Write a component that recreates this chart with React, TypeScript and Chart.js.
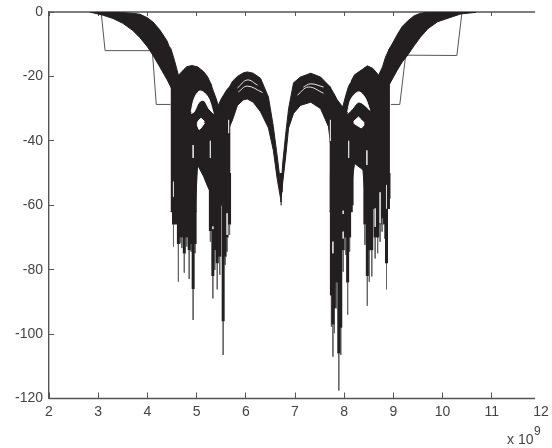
import React, { useEffect, useRef } from "react";
import { Chart, registerables } from "chart.js";

Chart.register(...registerables);

const INK = "#231f20";
const AXIS = "#555555";

// Envelope bands: x (in units of 1e9), upper edge, lower edge
const shoulderLX = [2.83, 3.1, 3.3, 3.5, 3.7, 3.85, 4.0, 4.12, 4.25, 4.4, 4.5];
const shoulderLTop = [0, -0.1, -0.15, -0.2, -0.4, -0.7, -1.8, -3.2, -5.5, -9, -13];
const shoulderLBot = [0, -1, -2, -3.5, -5.7, -8, -10.8, -13.6, -17, -21, -24];

const block1X = [4.47, 4.55, 4.63, 4.68, 4.73, 4.8, 4.91, 5.0];
const block1Top = [-11, -15, -19.6, -18.9, -18, -17, -16.6, -17];
const block1Bot = [-62, -62, -62, -62, -62, -62, -62, -62];

const midLX = [4.97, 5.02, 5.14, 5.22, 5.31];
const midLTop = [-17, -17, -18.5, -20, -23];
const midLBot = [-62, -47.5, -51, -54, -57];

const block2X = [5.28, 5.34, 5.4, 5.44, 5.5, 5.56, 5.62, 5.69];
const block2Top = [-22, -24.5, -27, -29, -27, -25.5, -24, -23];
const block2Bot = [-60, -60, -60, -60, -60, -60, -60, -60];

const lobeLX = [5.66, 5.73, 5.83, 5.95, 6.03, 6.15, 6.3, 6.46, 6.56, 6.64, 6.72];
const lobeLTop = [-23.5, -21.5, -20, -18.9, -18.6, -19, -20.6, -26.4, -35.6, -45, -55];
const lobeLBot = [-36, -33.5, -29, -27.3, -27, -28, -31, -36, -43, -52, -59];

const lobeRX = [6.71, 6.75, 6.81, 6.87, 6.97, 7.11, 7.32, 7.52, 7.68, 7.73];
const lobeRTop = [-56, -47, -38, -30, -22, -20.2, -19, -20.2, -22.7, -23.5];
const lobeRBot = [-59, -53, -45, -36, -31.5, -29, -28, -30, -35.6, -42];

const block3X = [7.7, 7.78, 7.86, 7.97, 8.03, 8.09, 8.17];
const block3Top = [-23, -25, -27.3, -29.5, -26, -23, -21];
const block3Bot = [-62, -62, -62, -62, -62, -62, -62];

const midRX = [8.14, 8.21, 8.38, 8.44];
const midRTop = [-21.5, -19.5, -17.7, -17.2];
const midRBot = [-55, -47, -49, -60];

const block4X = [8.4, 8.47, 8.58, 8.7, 8.78, 8.84, 8.93];
const block4Top = [-17.5, -16.7, -17.5, -19.6, -17, -14, -11];
const block4Bot = [-61, -61, -61, -61, -61, -61, -61];

const shoulderRX = [8.9, 9.08, 9.18, 9.29, 9.42, 9.55, 9.7, 9.9, 10.37, 10.68];
const shoulderRTop = [-12, -7, -4.5, -2.8, -1.2, -0.4, -0.1, 0, 0, 0];
const shoulderRBot = [-23, -18, -15.5, -13.4, -10.5, -7.8, -5.2, -3, -0.6, -0.1];

// White holes
const crescentLX = [4.89, 4.95, 5.05, 5.15, 5.25, 5.34];
const crescentLTop = [-31, -27, -24.6, -25, -27, -31.5];
const crescentLBot = [-31.5, -31, -28, -27.5, -30, -31.5];
const pocketLX = [5.01, 5.05, 5.09, 5.16];
const pocketLTop = [-34.5, -33.5, -33, -34];
const pocketLBot = [-35, -36.5, -36, -34.5];

const crescentRX = [8.07, 8.14, 8.29, 8.42, 8.52];
const crescentRTop = [-31, -27, -24.8, -26.5, -30.5];
const crescentRBot = [-31.5, -30.5, -28, -29, -30.5];
const pocketRX = [8.19, 8.29, 8.35, 8.41];
const pocketRTop = [-34, -32.6, -33.5, -34.5];
const pocketRBot = [-34.5, -35.5, -36, -35];

// Thin white arcs inside the central lobes
const arcA = { x: [5.83, 6.03, 6.24], y: [-23.6, -21.1, -22.7] };
const arcB = { x: [5.85, 6.03, 6.34], y: [-24.8, -23, -25] };
const arcC = { x: [7.05, 7.27, 7.58], y: [-25.8, -23.3, -25.2] };
const arcD = { x: [7.17, 7.32, 7.58], y: [-23.3, -22.3, -23.3] };

// White slits in the solid mass
const slitX = [5.65, 5.28, 4.93, 7.72, 8.09, 8.46, 4.53, 5.33, 5.62, 7.98, 7.98, 7.77, 8.86, 8.73, 8.63];
const slitTop = [-33.5, -40, -41.3, -33.5, -40, -43, -52.7, -66.6, -62.5, -61.7, -68.2, -71.3, -53.7, -56, -61];
const slitBot = [-37.6, -45.3, -45.3, -40, -45.3, -47.5, -57.3, -67.4, -69.2, -62.7, -70.3, -74.9, -61, -65.6, -66.7];

// Downward spikes: x, end of the heavy part, tip
const spikeX = [
  4.53, 4.58, 4.63, 4.68, 4.7, 4.75, 4.8, 4.85, 4.89, 4.93, 4.97,
  5.28, 5.33, 5.37, 5.42, 5.47, 5.54, 5.58, 5.62, 5.67,
  6.72,
  7.74, 7.77, 7.8, 7.84, 7.89, 7.93, 7.98, 8.03, 8.07, 8.11, 8.16,
  8.42, 8.47, 8.51, 8.56, 8.63, 8.68, 8.73, 8.77, 8.82, 8.86, 8.91,
];
const spikeHeavy = [
  -66, -66, -72, -70, -70, -75, -70, -74, -72, -86, -72,
  -68, -82, -74, -78, -76, -96, -76, -70, -66,
  -56,
  -88, -97, -92, -84, -106, -98, -74, -70, -84, -70, -60,
  -66, -82, -74, -74, -70, -70, -66, -64, -66, -78, -58,
];
const spikeTip = [
  -72.8, -66, -83.7, -71.8, -73.3, -80.9, -72.8, -82.9, -74.4, -95.6, -74.9,
  -71.3, -88.9, -80.1, -86.1, -81.6, -106.5, -78.5, -74.4, -69.2,
  -60,
  -97.7, -107, -99.7, -92, -117.5, -106.5, -80.6, -75.4, -94, -74.4, -62,
  -72.3, -91.2, -83.7, -82.1, -76.5, -74.9, -71.3, -68.2, -70.3, -86.1, -61,
];

// Stepped thin traces
const stepLX = [3.06, 3.14, 4.1, 4.18, 4.47];
const stepLY = [0, -12, -12, -28.7, -28.7];
const stepRX = [8.95, 9.13, 9.25, 10.29, 10.39];
const stepRY = [-28.7, -28.7, -13.4, -13.5, -0.6];

// Frame lines
const frameX = [2, 11.88];
const frameTop = [0, 0];
const frameBottom = [-120, -120];

const xTicks = [2, 3, 4, 5, 6, 7, 8, 9, 10, 11, 12];

const zip = (x: number[], y: number[]) => x.map((v, i) => ({ x: v, y: y[i] }));
const base = { showLine: true, pointRadius: 0, pointHoverRadius: 0, tension: 0 };

function band(out: any[], x: number[], top: number[], bot: number[], color: string, order: number, tension = 0) {
  out.push({
    ...base, tension, data: zip(x, top), borderColor: color, borderWidth: 1, backgroundColor: color,
    fill: "+1", order,
  });
  out.push({
    ...base, tension, data: zip(x, bot), borderColor: color, borderWidth: 1, fill: false, order,
  });
}

function columns(x: number[], from: number[], to: number[]) {
  const pts: any[] = [];
  x.forEach((v, i) => {
    pts.push({ x: v, y: from[i] }, { x: v, y: to[i] }, { x: v, y: null });
  });
  return pts;
}

const noPad = (s: any) => {
  s.paddingLeft = 0;
  s.paddingRight = 0;
  s.paddingTop = 0;
  s.paddingBottom = 0;
};

const sciLabel = {
  id: "sciLabel",
  afterDraw(chart: any) {
    const { ctx } = chart;
    ctx.save();
    ctx.fillStyle = "#444";
    ctx.textAlign = "left";
    ctx.textBaseline = "alphabetic";
    ctx.font = '14px "Liberation Sans"';
    ctx.fillText("x 10", 507, 444);
    ctx.font = '12px "Liberation Sans"';
    ctx.fillText("9", 534, 435);
    ctx.restore();
  },
};

export default function App() {
  const ref = useRef<HTMLCanvasElement>(null);
  useEffect(() => {
    const datasets: any[] = [];
    const white = "#ffffff";
    band(datasets, crescentLX, crescentLTop, crescentLBot, white, 0, 0.35);
    band(datasets, pocketLX, pocketLTop, pocketLBot, white, 0);
    band(datasets, crescentRX, crescentRTop, crescentRBot, white, 0, 0.35);
    band(datasets, pocketRX, pocketRTop, pocketRBot, white, 0);
    [arcA, arcB, arcC, arcD].forEach((a) =>
      datasets.push({ ...base, tension: 0.4, data: zip(a.x, a.y), borderColor: "#e8e8e8", borderWidth: 1, fill: false, order: 0 })
    );
    datasets.push({
      ...base, data: columns(slitX, slitTop, slitBot), borderColor: "#d8d8d8", borderWidth: 1,
      fill: false, spanGaps: false, order: 0,
    });
    band(datasets, shoulderLX, shoulderLTop, shoulderLBot, INK, 2);
    band(datasets, block1X, block1Top, block1Bot, INK, 2);
    band(datasets, midLX, midLTop, midLBot, INK, 2);
    band(datasets, block2X, block2Top, block2Bot, INK, 2);
    band(datasets, lobeLX, lobeLTop, lobeLBot, INK, 2);
    band(datasets, lobeRX, lobeRTop, lobeRBot, INK, 2);
    band(datasets, block3X, block3Top, block3Bot, INK, 2);
    band(datasets, midRX, midRTop, midRBot, INK, 2);
    band(datasets, block4X, block4Top, block4Bot, INK, 2);
    band(datasets, shoulderRX, shoulderRTop, shoulderRBot, INK, 2);
    datasets.push({
      ...base, data: columns(spikeX, spikeTip.map(() => -50), spikeHeavy), borderColor: INK, borderWidth: 3,
      borderCapStyle: "butt", fill: false, spanGaps: false, order: 2,
    });
    datasets.push({
      ...base, data: columns(spikeX, spikeHeavy, spikeTip), borderColor: "#666666", borderWidth: 1,
      fill: false, spanGaps: false, order: 3,
    });
    datasets.push({ ...base, data: zip(stepLX, stepLY), borderColor: "#555", borderWidth: 1, fill: false, order: 4 });
    datasets.push({ ...base, data: zip(stepRX, stepRY), borderColor: "#555", borderWidth: 1, fill: false, order: 4 });
    datasets.push({ ...base, data: zip(frameX, frameTop), borderColor: AXIS, borderWidth: 1.4, fill: false, clip: false, order: 5 });
    datasets.push({ ...base, data: zip(frameX, frameBottom), borderColor: AXIS, borderWidth: 1.4, fill: false, clip: false, order: 5 });

    const chart = new Chart(ref.current!, {
      type: "scatter",
      data: { datasets },
      plugins: [sciLabel],
      options: {
        responsive: false,
        animation: false,
        layout: { padding: { top: 12, right: 11, left: 0, bottom: 0 } },
        plugins: { legend: { display: false }, tooltip: { enabled: false } },
        scales: {
          x: {
            type: "linear", min: 2, max: 12, position: "bottom",
            afterFit: (s: any) => { s.height = 49.5; noPad(s); },
            afterBuildTicks: (s: any) => { s.ticks = xTicks.map((value) => ({ value })); },
            border: { display: false },
            grid: {
              drawOnChartArea: false, tickLength: -6, lineWidth: 1,
              tickColor: (c: any) => (c.tick && c.tick.value === 12 ? "rgba(0,0,0,0)" : AXIS),
            },
            ticks: { color: "#444", font: { family: "Liberation Sans", size: 14 }, padding: 11, maxRotation: 0, autoSkip: false },
          },
          xTop: {
            type: "linear", min: 2, max: 12, position: "top",
            afterFit: (s: any) => { s.height = 0; noPad(s); },
            afterBuildTicks: (s: any) => { s.ticks = xTicks.map((value) => ({ value })); },
            border: { display: false },
            grid: {
              drawOnChartArea: false, tickLength: -4, lineWidth: 1,
              tickColor: (c: any) => (c.tick && c.tick.value === 12 ? "rgba(0,0,0,0)" : AXIS),
            },
            ticks: { display: false },
          },
          y: {
            min: -120, max: 0,
            afterFit: (s: any) => { s.width = 49; noPad(s); },
            border: { display: true, color: AXIS, width: 1.4 },
            grid: { drawOnChartArea: false, tickLength: -5, color: AXIS, tickColor: AXIS, lineWidth: 1 },
            ticks: { stepSize: 20, color: "#444", font: { family: "Liberation Sans", size: 14 }, padding: 11 },
          },
        },
      },
    } as any);
    return () => chart.destroy();
  }, []);
  return (
    <canvas
      ref={ref}
      width={552}
      height={448}
      style={{ position: "absolute", left: 0, top: 0, display: "block", background: "#fff" }}
    />
  );
}
